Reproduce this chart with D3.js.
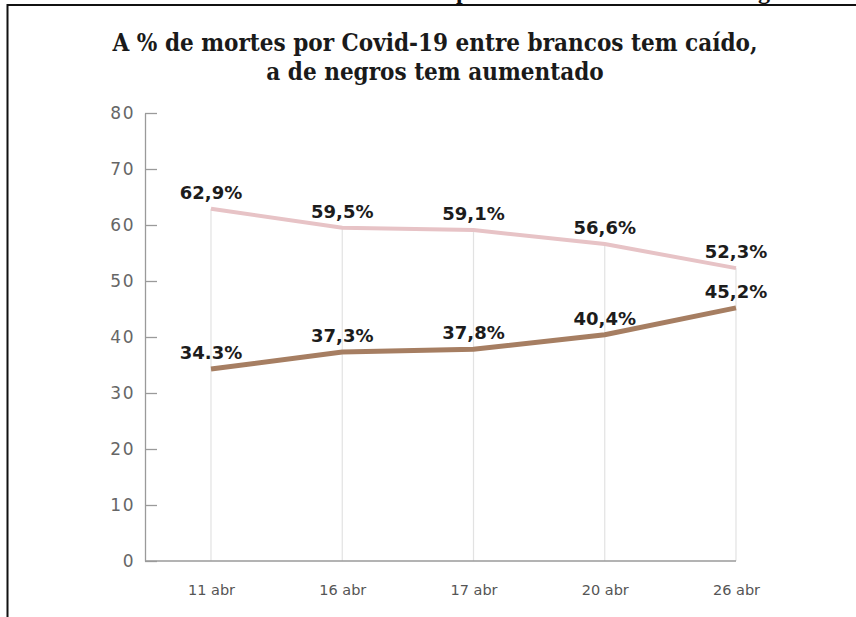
<!DOCTYPE html>
<html>
<head>
<meta charset="utf-8">
<script src="https://cdn.jsdelivr.net/npm/d3@7"></script>
<style>
  html, body { margin: 0; padding: 0; background: #fff; }
  svg { display: block; }
</style>
</head>
<body>
<div id="vis"></div>
<script>
// DATA ------------------------------------------------------------------
const dates   = ["11 abr", "16 abr", "17 abr", "20 abr", "26 abr"]
const brancos = [62.9, 59.5, 59.1, 56.6, 52.3]
const negros  = [34.3, 37.3, 37.8, 40.4, 45.2]
const brancosLabels = ["62,9%", "59,5%", "59,1%", "56,6%", "52,3%"]
const negrosLabels  = ["34.3%", "37,3%", "37,8%", "40,4%", "45,2%"]
const yTicks = [0, 10, 20, 30, 40, 50, 60, 70, 80]

// LAYOUT ----------------------------------------------------------------
const W = 856, H = 617
const plotLeft = 145, firstX = 211, lastX = 736
const yTop = 113, yBottom = 561

const svg = d3.select("#vis").append("svg")
  .attr("width", W)
  .attr("height", H)

// frame + bottom of the page headline that is cut off above
svg.append("line")
  .attr("x1", 7).attr("x2", W).attr("y1", 5).attr("y2", 5)
  .attr("stroke", "#111").attr("stroke-width", 2)
svg.append("line")
  .attr("x1", 7.5).attr("x2", 7.5).attr("y1", 4).attr("y2", H)
  .attr("stroke", "#111").attr("stroke-width", 2)

const clipped = svg.append("text")
  .attr("y", -1)
  .style("font-family", "'Liberation Serif', serif")
  .style("font-weight", "bold")
  .style("font-size", "24px")
  .attr("fill", "#111")
clipped.append("tspan").attr("x", 456).text("por")
clipped.append("tspan").attr("x", 734).text("negros")

// title
const title = svg.append("text")
  .attr("text-anchor", "middle")
  .style("font-family", "'DejaVu Serif Condensed', 'DejaVu Serif', serif")
  .style("font-weight", "bold")
  .style("font-size", "24px")
  .attr("fill", "#1a1a1a")
title.append("tspan").attr("x", 435).attr("y", 51)
  .text("A % de mortes por Covid-19 entre brancos tem caído,")
title.append("tspan").attr("x", 435).attr("y", 80)
  .text("a de negros tem aumentado")

// SCALES ----------------------------------------------------------------
const x = d3.scalePoint().domain(dates).range([firstX, lastX])
const y = d3.scaleLinear().domain([0, 80]).range([yBottom, yTop])

// vertical guides from bottom up to the upper series
svg.append("g").attr("class", "guides")
  .selectAll("line")
  .data(dates)
  .join("line")
  .attr("x1", d => x(d)).attr("x2", d => x(d))
  .attr("y1", y(0))
  .attr("y2", (d, i) => y(brancos[i]))
  .attr("stroke", "#e2e2e2")
  .attr("stroke-width", 1.2)

// y axis, ticks pointing inside
const yAxis = svg.append("g")
  .attr("transform", `translate(${plotLeft},0)`)
  .call(d3.axisLeft(y).tickValues(yTicks).tickSize(-12).tickSizeOuter(0).tickPadding(10))
yAxis.select(".domain").attr("stroke", "#9a9a9a").attr("stroke-width", 1.3)
yAxis.selectAll(".tick line").attr("stroke", "#9a9a9a").attr("stroke-width", 1.3)
yAxis.selectAll(".tick text")
  .attr("fill", "#666")
  .style("font-family", "'DejaVu Sans', sans-serif")
  .style("font-size", "17px")
  .style("letter-spacing", "1.5px")

// x axis: base line from the y axis to the last date, labels only
svg.append("line")
  .attr("x1", plotLeft).attr("x2", x(dates[dates.length - 1]))
  .attr("y1", y(0)).attr("y2", y(0))
  .attr("stroke", "#9a9a9a").attr("stroke-width", 1.3)

const xAxis = svg.append("g")
  .attr("transform", `translate(0,${y(0)})`)
  .call(d3.axisBottom(x).tickSize(0).tickPadding(24))
xAxis.select(".domain").remove()
xAxis.selectAll(".tick text")
  .attr("fill", "#555")
  .style("font-family", "'DejaVu Sans', sans-serif")
  .style("font-size", "14.5px")

// LINES -----------------------------------------------------------------
const line = vals => d3.line()
  .x((d, i) => x(dates[i]))
  .y(d => y(d))(vals)

svg.append("path")
  .attr("d", line(brancos))
  .attr("fill", "none")
  .attr("stroke", "#e7c3c6")
  .attr("stroke-width", 4)

svg.append("path")
  .attr("d", line(negros))
  .attr("fill", "none")
  .attr("stroke", "#a67e62")
  .attr("stroke-width", 5)

// value labels
const addLabels = (vals, labels, cls) => {
  svg.append("g").attr("class", cls)
    .selectAll("text")
    .data(vals)
    .join("text")
    .attr("x", (d, i) => x(dates[i]))
    .attr("y", d => y(d) - 10)
    .attr("text-anchor", "middle")
    .style("font-family", "'DejaVu Sans', sans-serif")
    .style("font-weight", "bold")
    .style("font-size", "18px")
    .attr("fill", "#1c1c1c")
    .text((d, i) => labels[i])
}
addLabels(brancos, brancosLabels, "labels-brancos")
addLabels(negros, negrosLabels, "labels-negros")
</script>
</body>
</html>
